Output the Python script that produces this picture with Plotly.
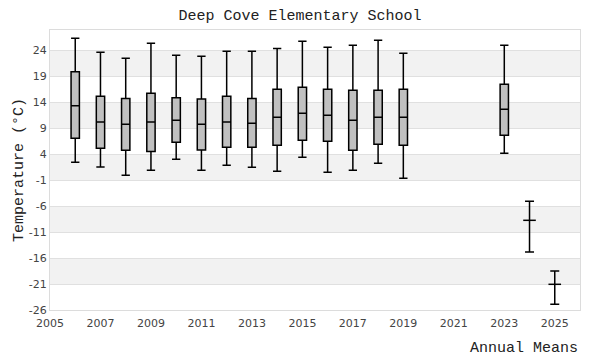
import plotly.graph_objects as go

years = [2006, 2007, 2008, 2009, 2010, 2011, 2012, 2013, 2014, 2015, 2016, 2017, 2018, 2019, 2023]
upper = [26.25, 23.55, 22.4, 25.3, 23.0, 22.8, 23.75, 23.75, 24.3, 25.67, 24.52, 24.9, 25.87, 23.37, 24.9]
q3 = [19.83, 15.1, 14.7, 15.7, 14.8, 14.6, 15.1, 14.7, 16.44, 16.83, 16.44, 16.25, 16.25, 16.44, 17.4]
median = [13.29, 10.15, 9.7, 10.15, 10.5, 9.7, 10.15, 9.9, 11.06, 11.83, 11.44, 10.48, 11.06, 11.06, 12.6]
q1 = [7.02, 5.1, 4.7, 4.5, 6.25, 4.77, 5.29, 5.29, 5.67, 6.63, 6.44, 4.71, 5.87, 5.67, 7.6]
lower = [2.4, 1.5, -0.1, 0.87, 2.98, 0.87, 1.83, 1.44, 0.67, 3.37, 0.48, 0.87, 2.21, -0.67, 4.13]

mean_years = [2024, 2025]
mean_vals = [-8.75, -21.06]
mean_hi = [-5.1, -18.5]
mean_lo = [-14.85, -24.9]

y_ticks = [-26, -21, -16, -11, -6, -1, 4, 9, 14, 19, 24]
x_ticks = [2005, 2007, 2009, 2011, 2013, 2015, 2017, 2019, 2021, 2023, 2025]

mono = "Courier New, Liberation Mono, monospace"

fig = go.Figure()
fig.add_trace(go.Box(
    x=years, q1=q1, median=median, q3=q3, lowerfence=lower, upperfence=upper,
    fillcolor="#c0c0c0", line=dict(color="black", width=1.5),
    width=0.33, whiskerwidth=1, boxpoints=False, showlegend=False, hoverinfo="skip",
))
fig.add_trace(go.Scatter(
    x=mean_years, y=mean_vals, mode="markers",
    marker=dict(symbol="line-ew", size=9, color="black", line=dict(color="black", width=1.5)),
    error_y=dict(type="data", symmetric=False,
                 array=[h - m for h, m in zip(mean_hi, mean_vals)],
                 arrayminus=[m - l for m, l in zip(mean_vals, mean_lo)],
                 color="black", thickness=1.5, width=4.5),
    showlegend=False, hoverinfo="skip",
))

shapes = []
for i in range(len(y_ticks) - 1):
    if i % 2 == 1:
        shapes.append(dict(type="rect", xref="paper", yref="y", x0=0, x1=1,
                           y0=y_ticks[i], y1=y_ticks[i + 1],
                           fillcolor="#f2f2f2", line=dict(width=0), layer="below"))

fig.update_layout(
    width=600, height=360,
    margin=dict(l=50, r=20, t=30, b=50),
    paper_bgcolor="white", plot_bgcolor="white",
    title=dict(text="Deep Cove Elementary School", x=0.5, xanchor="center", y=0.96, yanchor="middle",
               font=dict(family=mono, size=15, color="#222")),
    shapes=shapes,
    xaxis=dict(range=[2005, 2026], tickvals=x_ticks, ticktext=[str(t) for t in x_ticks],
               showgrid=False, zeroline=False, showline=True, mirror=True, linecolor="#dcdcdc",
               linewidth=1, ticks="", ticklabelstandoff=3,
               tickfont=dict(family="DejaVu Sans", size=11, color="#444")),
    yaxis=dict(range=[-26, 27.85], tickvals=y_ticks, ticktext=[str(t) for t in y_ticks],
               showgrid=True, gridcolor="#e0e0e0", gridwidth=1, zeroline=False,
               showline=True, mirror=True, linecolor="#dcdcdc", linewidth=1, ticks="",
               tickfont=dict(family="DejaVu Sans", size=11, color="#444"),
               title=dict(text="Temperature (°C)", standoff=1,
                          font=dict(family=mono, size=15, color="#222"))),
    annotations=[dict(text="Annual Means", xref="paper", yref="paper", x=1, y=-0.1,
                      xanchor="right", yanchor="top", showarrow=False,
                      font=dict(family=mono, size=15, color="#222"))],
)

fig.write_html("out.html", config={"displayModeBar": False},
               post_script="document.body.style.margin='0';")
